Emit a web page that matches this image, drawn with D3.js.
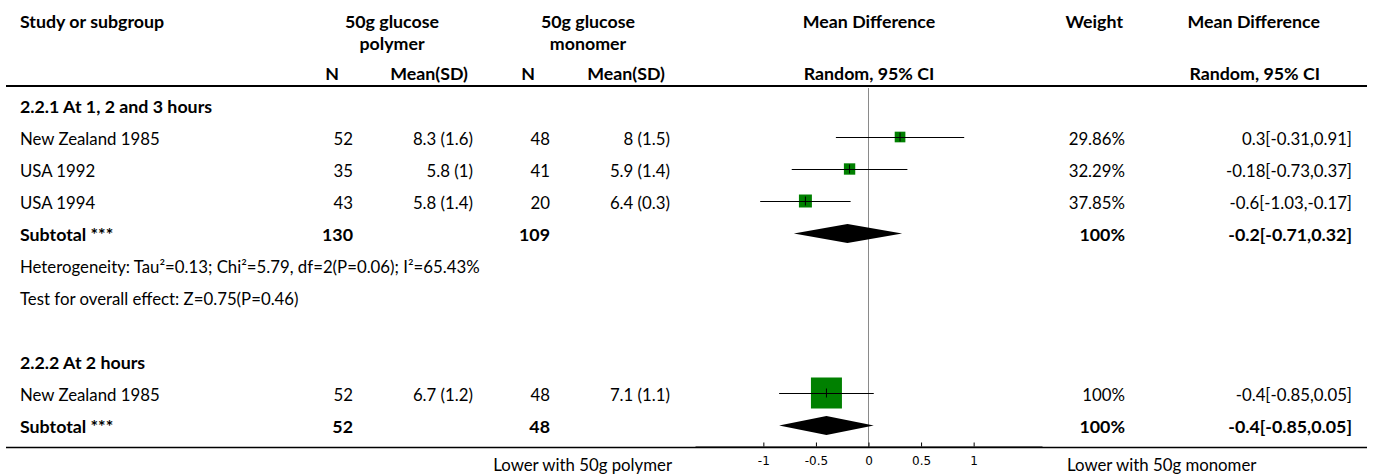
<!DOCTYPE html>
<html>
<head>
<meta charset="utf-8">
<script src="https://cdn.jsdelivr.net/npm/d3@7"></script>
<style>
  body { margin: 0; background: #fff; }
  text { font-family: Lato, "Noto Sans", sans-serif; fill: #000; }
</style>
</head>
<body>
<div id="canvas"></div>
<script>
// subgroup 2.2.1
const studies1 = ["New Zealand 1985", "USA 1992", "USA 1994"];
const polyN1 = [52, 35, 43];
const polyMean1 = [8.3, 5.8, 5.8];
const polySD1 = [1.6, 1, 1.4];
const monoN1 = [48, 41, 20];
const monoMean1 = [8, 5.9, 6.4];
const monoSD1 = [1.5, 1.4, 0.3];
const md1 = [0.3, -0.18, -0.6];
const lo1 = [-0.31, -0.73, -1.03];
const hi1 = [0.91, 0.37, -0.17];
const weight1 = [29.86, 32.29, 37.85];
const subtotal1 = [130, 109, -0.2, -0.71, 0.32, 100]; // N1, N2, md, lo, hi, weight

// subgroup 2.2.2
const studies2 = ["New Zealand 1985"];
const polyN2 = [52];
const polyMean2 = [6.7];
const polySD2 = [1.2];
const monoN2 = [48];
const monoMean2 = [7.1];
const monoSD2 = [1.1];
const md2 = [-0.4];
const lo2 = [-0.85];
const hi2 = [0.05];
const weight2 = [100];
const subtotal2 = [52, 48, -0.4, -0.85, 0.05, 100];

const heterogeneity1 = "Heterogeneity: Tau²=0.13; Chi²=5.79, df=2(P=0.06); I²=65.43%";
const overall1 = "Test for overall effect: Z=0.75(P=0.46)";
const tickValues = [-1, -0.5, 0, 0.5, 1];

const width = 1375, height = 476;
const svg = d3.select("#canvas").append("svg")
    .attr("width", width)
    .attr("height", height);

const fs = 16.8;   // regular text
const fsb = 17.8;  // bold text
const x = d3.scaleLinear().domain([-1.65, 1.65]).range([695, 1042]);
const y = d3.scaleLinear().domain([0, 10]).range([105, 425]);
const size = d3.scaleLinear().domain([0, 100]).range([2, 31]);

// build rows
const rows = [];
rows.push({type: "group", i: 0, label: "2.2.1 At 1, 2 and 3 hours"});
studies1.forEach((s, k) => rows.push({type: "study", i: 1 + k, label: s,
    n1: polyN1[k], m1: polyMean1[k] + " (" + polySD1[k] + ")",
    n2: monoN1[k], m2: monoMean1[k] + " (" + monoSD1[k] + ")",
    md: md1[k], lo: lo1[k], hi: hi1[k], w: weight1[k]}));
rows.push({type: "sub", i: 4, label: "Subtotal ***", n1: subtotal1[0], n2: subtotal1[1],
    md: subtotal1[2], lo: subtotal1[3], hi: subtotal1[4], w: subtotal1[5]});
rows.push({type: "note", i: 5, label: heterogeneity1});
rows.push({type: "note", i: 6, label: overall1});
rows.push({type: "group", i: 8, label: "2.2.2 At 2 hours"});
studies2.forEach((s, k) => rows.push({type: "study", i: 9 + k, label: s,
    n1: polyN2[k], m1: polyMean2[k] + " (" + polySD2[k] + ")",
    n2: monoN2[k], m2: monoMean2[k] + " (" + monoSD2[k] + ")",
    md: md2[k], lo: lo2[k], hi: hi2[k], w: weight2[k]}));
rows.push({type: "sub", i: 10, label: "Subtotal ***", n1: subtotal2[0], n2: subtotal2[1],
    md: subtotal2[2], lo: subtotal2[3], hi: subtotal2[4], w: subtotal2[5]});

// header
const head = svg.append("g").style("font-weight", "bold").style("font-size", fsb + "px");
const hdr = [
    ["Study or subgroup", 20, 28, "start"],
    ["50g glucose", 392, 28, "middle"], ["polymer", 392, 50, "middle"],
    ["50g glucose", 588, 28, "middle"], ["monomer", 588, 50, "middle"],
    ["N", 332, 80, "middle"], ["Mean(SD)", 468, 80, "end"],
    ["N", 528, 80, "middle"], ["Mean(SD)", 665, 80, "end"],
    ["Mean Difference", 869, 28, "middle"], ["Random, 95% CI", 869, 80, "middle"],
    ["Weight", 1123, 28, "end"],
    ["Mean Difference", 1320, 28, "end"], ["Random, 95% CI", 1320, 80, "end"]
];
head.selectAll("text").data(hdr).enter().append("text")
    .attr("x", d => d[1])
    .attr("y", d => d[2])
    .attr("text-anchor", d => d[3])
    .text(d => d[0]);

svg.append("line")
    .attr("x1", 6).attr("x2", 1367).attr("y1", 86).attr("y2", 86)
    .attr("stroke", "#000").attr("stroke-width", 2);

// zero line
svg.append("line")
    .attr("x1", x(0)).attr("x2", x(0)).attr("y1", 88).attr("y2", 447)
    .attr("stroke", "#8a8a8a").attr("stroke-width", 1);

// table text
const base = d => y(d.i) + 8;
const body = svg.append("g");
const rowG = body.selectAll("g.row").data(rows).enter().append("g")
    .attr("class", "row")
    .style("font-weight", d => (d.type === "group" || d.type === "sub") ? "bold" : "normal")
    .style("font-size", d => ((d.type === "group" || d.type === "sub") ? fsb : fs) + "px");

rowG.append("text").attr("x", 20).attr("y", base).text(d => d.label);

const num = rowG.filter(d => d.type === "study" || d.type === "sub");
num.append("text").attr("x", 353).attr("y", base).attr("text-anchor", "end").text(d => d.n1);
num.append("text").attr("x", 473).attr("y", base).attr("text-anchor", "end").text(d => d.m1 || "");
num.append("text").attr("x", 550).attr("y", base).attr("text-anchor", "end").text(d => d.n2);
num.append("text").attr("x", 670).attr("y", base).attr("text-anchor", "end").text(d => d.m2 || "");
num.append("text").attr("x", 1125).attr("y", base).attr("text-anchor", "end").text(d => d.w + "%");
num.append("text").attr("x", 1352).attr("y", base).attr("text-anchor", "end")
    .text(d => d.md + "[" + d.lo + "," + d.hi + "]");

// study markers
const st = svg.selectAll("g.study").data(rows.filter(d => d.type === "study")).enter().append("g")
    .attr("class", "study");
st.append("rect")
    .attr("x", d => x(d.md) - size(d.w) / 2)
    .attr("y", d => y(d.i) - size(d.w) / 2)
    .attr("width", d => size(d.w))
    .attr("height", d => size(d.w))
    .attr("fill", "#008000");
st.append("line")
    .attr("x1", d => x(d.lo)).attr("x2", d => x(d.hi))
    .attr("y1", d => y(d.i) + 0.5).attr("y2", d => y(d.i) + 0.5)
    .attr("stroke", "#000").attr("stroke-width", 1);
st.append("line")
    .attr("x1", d => x(d.md)).attr("x2", d => x(d.md))
    .attr("y1", d => y(d.i) - 4.5).attr("y2", d => y(d.i) + 4.5)
    .attr("stroke", "#000").attr("stroke-width", 1);

// diamonds
svg.selectAll("path.diamond").data(rows.filter(d => d.type === "sub")).enter().append("path")
    .attr("class", "diamond")
    .attr("d", d => {
        const c = y(d.i) + 0.5, h = 9.5;
        return `M${x(d.lo)},${c}L${x(d.md)},${c - h}L${x(d.hi)},${c}L${x(d.md)},${c + h}Z`;
    })
    .attr("fill", "#000");

// bottom line and axis
svg.append("line")
    .attr("x1", 6).attr("x2", 1367).attr("y1", 447.5).attr("y2", 447.5)
    .attr("stroke", "#000").attr("stroke-width", 1.5);

const axis = svg.append("g")
    .attr("transform", "translate(0,446.5)")
    .call(d3.axisBottom(x).tickValues(tickValues).tickSize(-4).tickSizeOuter(0)
        .tickPadding(10).tickFormat(d => String(d)));
axis.select(".domain").attr("stroke", "#000");
axis.selectAll("text")
    .style("font-family", "'DejaVu Sans', sans-serif")
    .style("font-size", "12px");

svg.append("text").attr("x", 672).attr("y", 471).attr("text-anchor", "end")
    .style("font-size", fs + "px").text("Lower with 50g polymer");
svg.append("text").attr("x", 1067).attr("y", 471)
    .style("font-size", fs + "px").text("Lower with 50g monomer");
</script>
</body>
</html>
